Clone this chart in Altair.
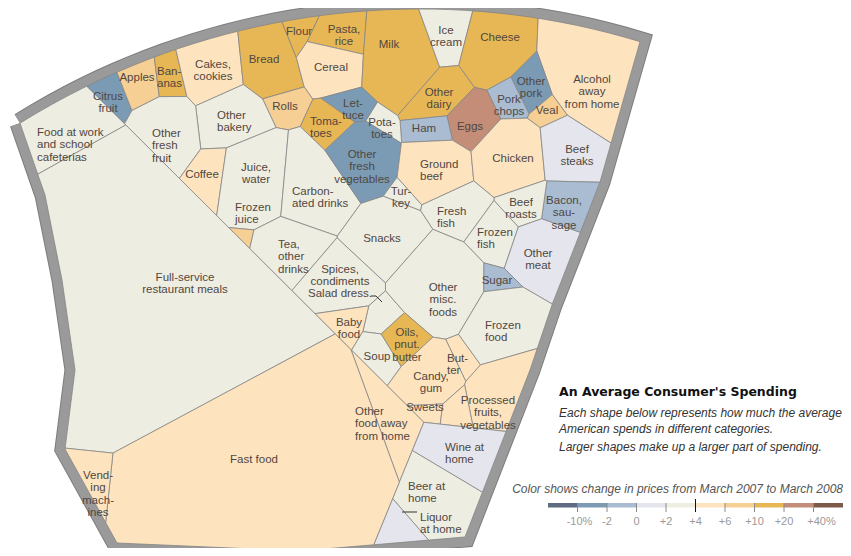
import altair as alt
import numpy as np
import pandas as pd

# ---------------- data ----------------
keys = ["work", "citrus", "apples", "bananas", "cakes", "bread", "flour", "pasta", "cereal", "milk",
        "icecream", "cheese", "alcohol", "otherdairy", "otherpork", "porkchops", "veal", "eggs", "ham",
        "potatoes", "lettuce", "tomatoes", "rolls", "otherbakery", "otherfruit", "coffee", "juice",
        "frozenjuice", "carbonated", "ofv", "turkey", "groundbeef", "chicken", "beefsteaks", "bacon",
        "beefroasts", "freshfish", "frozenfish", "othermeat", "snacks", "tea", "spices", "saladdress",
        "misc", "sugar", "frozenfood", "babyfood", "soup", "oils", "butter", "candy", "sweets",
        "processed", "u_proc", "otheraway", "wine", "beer", "liquor", "fullservice", "fastfood", "vending"]

categories = ["Food at work\nand school\ncafeterias", "Citrus\nfruit", "Apples", "Ban-\nanas", "Cakes,\ncookies",
              "Bread", "Flour", "Pasta,\nrice", "Cereal", "Milk", "Ice\ncream", "Cheese",
              "Alcohol\naway\nfrom home", "Other\ndairy", "Other\npork", "Pork\nchops", "Veal", "Eggs", "Ham",
              "Pota-\ntoes", "Let-\ntuce", "Toma-\ntoes", "Rolls", "Other\nbakery", "Other\nfresh\nfruit",
              "Coffee", "Juice,\nwater", "Frozen\njuice", "Carbon-\nated drinks", "Other\nfresh\nvegetables",
              "Tur-\nkey", "Ground\nbeef", "Chicken", "Beef\nsteaks", "Bacon,\nsau-\nsage", "Beef\nroasts",
              "Fresh\nfish", "Frozen\nfish", "Other\nmeat", "Snacks", "Tea,\nother\ndrinks",
              "Spices,\ncondiments", "Salad dress.", "Other\nmisc.\nfoods", "Sugar", "Frozen\nfood",
              "Baby\nfood", "Soup", "Oils,\npnut.\nbutter", "But-\nter", "Candy,\ngum", "Sweets",
              "Processed\nfruits,\nvegetables", "", "Other\nfood away\nfrom home", "Wine at\nhome",
              "Beer at\nhome", "Liquor\nat home", "Full-service\nrestaurant meals", "Fast food",
              "Vend-\ning\nmach-\nines"]

# price change bin index (0 = under -10% ... 9 = over +40%)
price_bin = [4, 1, 6, 7, 5, 7, 7, 7, 5, 7,
             4, 7, 5, 7, 1, 2, 6, 8, 2,
             4, 1, 7, 6, 4, 4, 5, 4,
             6, 4, 1, 4, 5, 5, 3, 2,
             4, 4, 4, 3, 4, 4, 4, 4,
             4, 2, 4, 5, 4, 7, 5, 5, 5,
             5, 5, 5, 3, 4, 3, 4, 5, 5]

# spending group of each category
away_group = ["work", "fullservice", "fastfood", "vending", "otheraway"]
alcohol_home_group = ["wine", "beer", "liquor"]

bin_names = ["under -10%", "-10% to -2%", "-2% to 0", "0 to +2%", "+2% to +4%", "+4% to +6%",
             "+6% to +10%", "+10% to +20%", "+20% to +40%", "over +40%"]
bin_colors = ["#5f6b80", "#7b9bb5", "#a9bcd2", "#e5e6ed", "#eeede2", "#fde4bf",
              "#f5cf93", "#e8b755", "#c48d78", "#7e5a4a"]
tick_labels = ["-10%", "-2", "0", "+2", "+4", "+6", "+10", "+20", "+40%"]

title_text = "An Average Consumer's Spending"
subtitle_lines = ["Each shape below represents how much the average",
                  "American spends in different categories.",
                  "Larger shapes make up a larger part of spending."]
legend_title = "Color shows change in prices from March 2007 to March 2008"

# ---------------- layout (page pixels) ----------------
label_x = [37, 108, 137, 157, 213, 264, 299, 344, 331, 389, 446, 500, 592, 439, 531, 509, 547, 470, 424,
           382, 353, 310, 285, 217, 152, 202, 256, 235, 292, 362, 401, 420, 513, 577, 564, 521, 437, 477,
           538, 382, 278, 340, 340, 443, 497, 485, 349, 377, 407, 447, 431, 425, 488, 460, 355, 445, 408,
           420, 185, 254, 98]
label_y = [133, 97, 78, 72, 65, 60, 32, 30, 68, 45, 31, 38, 80, 93, 82, 100, 111, 127, 129,
           123, 104, 122, 107, 116, 134, 175, 168, 208, 192, 155, 192, 165, 159, 150, 201, 203, 212, 233,
           254, 239, 245, 270, 294, 288, 281, 326, 323, 357, 333, 359, 377, 408, 401, 415, 412, 448, 487,
           518, 278, 460, 476]
left_aligned = {"work", "bananas", "tomatoes", "otherbakery", "otherfruit", "frozenjuice", "carbonated",
                "groundbeef", "freshfish", "frozenfish", "tea", "frozenfood", "butter", "otheraway",
                "wine", "beer", "liquor"}

# junctions where cell boundaries meet (page px) -> cells meeting there
junctions = [
    (82, 91, ["work", "citrus"]), (117, 75, ["citrus", "apples"]), (152, 62, ["apples", "bananas"]),
    (175, 52, ["bananas", "cakes"]), (237, 33, ["cakes", "bread"]), (285, 26, ["bread", "flour"]),
    (313, 18, ["flour", "pasta"]), (365, 12, ["pasta", "milk"]), (418, 9, ["milk", "icecream"]),
    (472, 11, ["icecream", "cheese"]), (537, 17, ["cheese", "alcohol"]), (607, 142, ["alcohol", "beefsteaks"]),
    (593, 183, ["beefsteaks", "bacon"]), (577, 232, ["bacon", "othermeat"]), (552, 305, ["othermeat", "frozenfood"]),
    (528, 350, ["frozenfood", "processed"]), (507, 432, ["processed", "wine"]), (482, 492, ["wine", "beer"]),
    (425, 541, ["beer", "liquor"]), (385, 544, ["liquor", "fastfood"]), (105, 522, ["fastfood", "vending"]),
    (65, 449, ["vending", "fullservice"]), (40, 173, ["work", "fullservice"]),
    (122, 127, ["citrus", "work", "fullservice", "otherfruit"]), (133, 109, ["citrus", "apples", "otherfruit"]),
    (160, 98, ["apples", "bananas", "otherfruit"]), (189, 93, ["bananas", "cakes", "otherfruit"]),
    (194, 106, ["cakes", "otherfruit", "otherbakery"]), (243, 87, ["cakes", "bread", "otherbakery"]),
    (266, 99, ["bread", "otherbakery", "rolls"]), (293, 47, ["bread", "flour", "cereal"]),
    (313, 35, ["flour", "pasta", "cereal"]), (365, 52, ["pasta", "milk", "cereal"]),
    (304, 83, ["bread", "cereal", "rolls"]), (313, 100, ["rolls", "cereal", "tomatoes"]),
    (333, 95, ["cereal", "tomatoes", "lettuce"]), (363, 87, ["cereal", "lettuce", "milk"]),
    (376, 100, ["lettuce", "milk", "potatoes"]), (347, 125, ["tomatoes", "lettuce", "ofv"]),
    (360, 123, ["lettuce", "potatoes", "ofv"]), (397, 117, ["milk", "potatoes", "otherdairy"]),
    (440, 65, ["milk", "icecream", "otherdairy"]), (457, 68, ["icecream", "cheese", "otherdairy"]),
    (477, 93, ["otherdairy", "cheese", "eggs"]), (488, 89, ["eggs", "cheese", "porkchops"]),
    (507, 78, ["cheese", "porkchops", "otherpork"]), (538, 52, ["cheese", "otherpork", "alcohol"]),
    (530, 107, ["porkchops", "otherpork", "veal"]), (553, 97, ["otherpork", "veal", "alcohol"]),
    (567, 112, ["veal", "alcohol", "beefsteaks"]), (543, 128, ["veal", "beefsteaks", "chicken"]),
    (528, 117, ["porkchops", "veal", "chicken"]), (503, 121, ["porkchops", "eggs", "chicken"]),
    (472, 151, ["eggs", "groundbeef", "chicken"]), (450, 137, ["eggs", "ham", "groundbeef"]),
    (446, 113, ["otherdairy", "ham", "eggs"]), (402, 127, ["potatoes", "otherdairy", "ham"]),
    (401, 146, ["potatoes", "ham", "groundbeef", "ofv"]), (398, 174, ["ofv", "groundbeef", "turkey"]),
    (384, 197, ["ofv", "turkey", "snacks"]), (420, 205, ["turkey", "groundbeef", "freshfish"]),
    (418, 214, ["turkey", "freshfish", "snacks"]), (473, 180, ["groundbeef", "chicken", "freshfish"]),
    (493, 198, ["chicken", "freshfish", "beefroasts", "frozenfish"]),
    (545, 180, ["chicken", "beefsteaks", "bacon", "beefroasts"]),
    (543, 217, ["beefroasts", "bacon", "othermeat"]), (518, 227, ["beefroasts", "frozenfish", "othermeat"]),
    (500, 270, ["frozenfish", "othermeat", "sugar"]), (462, 244, ["freshfish", "frozenfish", "misc"]),
    (482, 261, ["frozenfish", "misc", "sugar"]), (520, 283, ["othermeat", "sugar", "frozenfood"]),
    (483, 296, ["misc", "sugar", "frozenfood"]), (435, 228, ["freshfish", "snacks", "misc"]),
    (385, 283, ["snacks", "spices", "misc"]), (385, 293, ["spices", "misc", "saladdress"]),
    (370, 305, ["spices", "saladdress", "babyfood"]), (295, 287, ["tea", "spices", "fullservice"]),
    (322, 313, ["spices", "fullservice", "babyfood"]), (403, 308, ["saladdress", "misc", "oils"]),
    (382, 333, ["saladdress", "oils", "soup"]), (362, 333, ["saladdress", "babyfood", "soup"]),
    (353, 348, ["babyfood", "soup", "otheraway"]),
    (342, 334, ["fullservice", "babyfood", "fastfood", "otheraway"]),
    (385, 387, ["soup", "otheraway", "candy"]), (403, 367, ["oils", "soup", "candy"]),
    (432, 337, ["oils", "misc", "candy"]), (442, 338, ["misc", "candy", "butter"]),
    (458, 337, ["misc", "butter", "frozenfood"]), (480, 370, ["butter", "frozenfood", "processed"]),
    (463, 382, ["butter", "candy", "u_proc", "processed"]), (403, 405, ["otheraway", "candy", "sweets"]),
    (447, 403, ["candy", "sweets", "u_proc"]), (422, 430, ["otheraway", "sweets", "wine"]),
    (438, 428, ["sweets", "u_proc", "wine"]), (473, 428, ["u_proc", "processed", "wine"]),
    (408, 448, ["otheraway", "wine", "beer"]), (395, 470, ["otheraway", "fastfood", "beer"]),
    (388, 497, ["fastfood", "beer", "liquor"]), (117, 455, ["vending", "fullservice", "fastfood"]),
    (200, 151, ["otherfruit", "otherbakery", "coffee"]), (180, 178, ["otherfruit", "coffee", "fullservice"]),
    (227, 147, ["otherbakery", "coffee", "juice"]), (218, 213, ["coffee", "juice", "fullservice"]),
    (273, 132, ["otherbakery", "rolls", "juice"]), (290, 128, ["rolls", "juice", "carbonated"]),
    (303, 125, ["rolls", "tomatoes", "carbonated"]), (320, 150, ["tomatoes", "ofv", "carbonated"]),
    (360, 202, ["ofv", "carbonated", "snacks"]), (337, 237, ["carbonated", "tea", "spices", "snacks"]),
    (282, 213, ["juice", "carbonated", "tea"]), (233, 228, ["juice", "frozenjuice", "fullservice"]),
    (258, 230, ["juice", "frozenjuice", "tea"]), (248, 242, ["frozenjuice", "tea", "fullservice"]),
    (253, 372, ["fullservice", "fastfood"]), (410, 512, ["beer", "liquor"]),
]

# inner edge of the grey frame (page px)
arc_cx, arc_cy, arc_r = 420.0, 767.0, 758.0
arc_xs = np.linspace(20, 640, 40)
frame = [(float(x), float(arc_cy - np.sqrt(arc_r ** 2 - (x - arc_cx) ** 2))) for x in arc_xs]
frame += [(600, 182), (552, 305), (530, 370), (465, 537), (383, 544), (300, 551), (117, 543),
          (65, 449), (75, 370), (62, 280), (45, 195)]

OX, OY = 8, 8  # page margin
S = 100.0


# ---------------- power-diagram layout fitted to the junctions ----------------
def diff_row(p, a, b, M):
    r = np.zeros(3 * M)
    r[3 * a], r[3 * a + 1], r[3 * a + 2] = -2 * p[0], -2 * p[1], 1.0
    r[3 * b], r[3 * b + 1], r[3 * b + 2] = 2 * p[0], 2 * p[1], -1.0
    return r  # f_a(p) - f_b(p)


def fit(members, jlist, anchors, owned, lam, mu=0.01, margin=0.012, iters=14):
    M = len(members)
    mid = {k: i for i, k in enumerate(members)}
    base_rows, base_rhs = [], []
    for (x, y, cs) in jlist:
        p = (x / S, y / S)
        for c in cs[1:]:
            base_rows.append(diff_row(p, mid[cs[0]], mid[c], M)); base_rhs.append(0.0)
    for i in range(M):
        g = anchors[i]
        for d in range(2):
            r = np.zeros(3 * M); r[3 * i + d] = lam
            base_rows.append(r); base_rhs.append(lam * g[d])
        r = np.zeros(3 * M); r[3 * i + 2] = mu
        base_rows.append(r); base_rhs.append(mu * float(g @ g))
    extra_rows, extra_rhs = [], []
    for it in range(iters):
        sol = np.linalg.lstsq(np.array(base_rows + extra_rows), np.array(base_rhs + extra_rhs), rcond=None)[0]
        sx, sy, cc = sol[0::3], sol[1::3], sol[2::3]
        added = 0
        for (p, i) in owned:
            f = -2 * (p[0] * sx + p[1] * sy) + cc
            for k in np.where(f < f[i] + margin)[0]:
                if k != i:
                    extra_rows.append(diff_row(p, k, i, M)); extra_rhs.append(margin); added += 1
        for (x, y, cs) in jlist:
            p = (x / S, y / S)
            f = -2 * (p[0] * sx + p[1] * sy) + cc
            own = [mid[c] for c in cs]
            top = max(f[o] for o in own)
            for k in np.where(f < top + margin * 0.5)[0]:
                if k not in own:
                    extra_rows.append(diff_row(p, k, own[0], M)); extra_rhs.append(margin * 0.5); added += 1
        if added == 0:
            break
    return sx, sy, cc


def clip(poly, a, b, c0):
    out = []
    n = len(poly)
    for k in range(n):
        P, Q = poly[k], poly[(k + 1) % n]
        fp = a * P[0] + b * P[1] + c0
        fq = a * Q[0] + b * Q[1] + c0
        if fp <= 0:
            out.append(P)
        if (fp < 0 < fq) or (fq < 0 < fp):
            t = fp / (fp - fq)
            out.append((P[0] + t * (Q[0] - P[0]), P[1] + t * (Q[1] - P[1])))
    return out


def cells_of(poly0, sx, sy, cc):
    polys = []
    for i in range(len(sx)):
        poly = list(poly0)
        for j in range(len(sx)):
            if j == i or not poly:
                continue
            poly = clip(poly, -2 * (sx[i] - sx[j]) / S, -2 * (sy[i] - sy[j]) / S, cc[i] - cc[j])
        polys.append(poly)
    return polys


cell_pts = {k: [] for k in keys}
for (x, y, cs) in junctions:
    for c in cs:
        cell_pts[c].append((x / S, y / S))
cell_anchor = {k: np.mean(np.array(cell_pts[k]), axis=0) for k in keys}

group_of = {k: ("away" if k in away_group else ("alc" if k in alcohol_home_group else "home")) for k in keys}
groups = ["away", "alc", "home"]
members_of = {g: [k for k in keys if group_of[k] == g] for g in groups}

# level 1: groups
g_jl = []
for (x, y, cs) in junctions:
    gs = []
    for c in cs:
        if group_of[c] not in gs:
            gs.append(group_of[c])
    if len(gs) >= 2:
        g_jl.append((x, y, gs))
g_anchor = [np.mean(np.array([cell_anchor[k] for k in members_of[g]]), axis=0) for g in groups]
g_owned = [(cell_anchor[k], groups.index(group_of[k])) for k in keys]
gsx, gsy, gcc = fit(groups, g_jl, g_anchor, g_owned, lam=0.3)
group_polys = cells_of(frame, gsx, gsy, gcc)

# level 2: cells inside each group
cell_poly = {}
for gi, g in enumerate(groups):
    mem = members_of[g]
    jl = []
    for (x, y, cs) in junctions:
        inside = [c for c in cs if c in mem]
        if len(inside) >= 2:
            jl.append((x, y, inside))
    anchors = [cell_anchor[k] for k in mem]
    owned = []
    for i, k in enumerate(mem):
        owned.append((cell_anchor[k], i))
        for v in cell_pts[k]:
            owned.append((0.55 * cell_anchor[k] + 0.45 * np.array(v), i))
    sx, sy, cc = fit(mem, jl, anchors, owned, lam=0.18)
    for k, poly in zip(mem, cells_of(group_polys[gi], sx, sy, cc)):
        cell_poly[k] = poly


def ring(points):
    r = [[round(p[0] - OX, 2), round(p[1] - OY, 2)] for p in points]
    return r + [r[0]]


cell_features = []
for i, k in enumerate(keys):
    poly = cell_poly[k]
    if len(poly) >= 3:
        cell_features.append({"type": "Feature",
                              "geometry": {"type": "Polygon", "coordinates": [ring(poly)]},
                              "properties": {"name": k, "bin": bin_names[price_bin[i]]}})

frame_feature = [{"type": "Feature", "geometry": {"type": "LineString", "coordinates": ring(frame)},
                  "properties": {}}]

# legend geometry
leg_x0, leg_w, leg_y0, leg_y1 = 548, 29.5, 503, 507.5
legend_boxes = []
for k in range(len(bin_names)):
    x0 = leg_x0 + k * leg_w
    legend_boxes.append({"type": "Feature",
                         "geometry": {"type": "Polygon", "coordinates": [ring([(x0, leg_y0), (x0 + leg_w, leg_y0),
                                                                               (x0 + leg_w, leg_y1), (x0, leg_y1)])]},
                         "properties": {"bin": bin_names[k]}})
tick_feats, tick_text = [], []
for k, lab in enumerate(tick_labels):
    x = leg_x0 + (k + 1) * leg_w
    top = 499 if lab == "+4" else 503
    tick_feats.append({"type": "Feature",
                       "geometry": {"type": "LineString", "coordinates": [[x - OX, top - OY], [x - OX, 512 - OY]]},
                       "properties": {"dark": "y" if lab == "+4" else "n"}})
    tick_text.append({"lon": x - OX + (2 if lab == "-10%" else (8 if lab == "+40%" else 0)),
                      "lat": 522 - OY, "text": lab})

leaders = [{"type": "Feature", "geometry": {"type": "LineString",
                                              "coordinates": [[402 - OX, 512 - OY], [417 - OX, 512 - OY]]},
            "properties": {}},
           {"type": "Feature", "geometry": {"type": "LineString",
                                              "coordinates": [[371 - OX, 296 - OY], [376 - OX, 296 - OY],
                                                              [382 - OX, 302 - OY]]},
            "properties": {}}]

lab_df = pd.DataFrame({"lon": [x - OX for x in label_x], "lat": [y - OY for y in label_y],
                       "text": categories, "key": keys})
lab_df["align"] = ["left" if k in left_aligned else "center" for k in keys]
lab_df = lab_df[lab_df["text"] != ""]

color_scale = alt.Scale(domain=bin_names, range=bin_colors)
proj = dict(type="identity", scale=1, translate=[0, 0])


def geo(feats):
    return alt.InlineData(values={"type": "FeatureCollection", "features": feats},
                          format=alt.DataFormat(property="features", type="json"))


frame_edge = alt.Chart(geo(frame_feature)).mark_geoshape(
    filled=False, stroke="#7d7d7d", strokeWidth=21, strokeJoin="miter")
frame_layer = alt.Chart(geo(frame_feature)).mark_geoshape(
    filled=False, stroke="#9a9a9a", strokeWidth=19, strokeJoin="miter")
cells_layer = alt.Chart(geo(cell_features)).mark_geoshape(stroke="#858585", strokeWidth=0.8).encode(
    color=alt.Color("properties.bin:N", scale=color_scale, legend=None))
leader_layer = alt.Chart(geo(leaders)).mark_geoshape(filled=False, stroke="#333333", strokeWidth=1)

txt_common = dict(font="Liberation Sans", fontSize=11.5, color="#51473f", lineBreak="\n",
                  lineHeight=12.3, baseline="middle")
lab_center = alt.Chart(lab_df[lab_df["align"] == "center"]).mark_text(align="center", **txt_common).encode(
    longitude="lon:Q", latitude="lat:Q", text="text:N")
lab_left = alt.Chart(lab_df[lab_df["align"] == "left"]).mark_text(align="left", **txt_common).encode(
    longitude="lon:Q", latitude="lat:Q", text="text:N")

title_layer = alt.Chart(pd.DataFrame({"lon": [559 - OX], "lat": [392 - OY], "text": [title_text]})).mark_text(
    align="left", baseline="middle", font="DejaVu Sans", fontWeight="bold", fontSize=12.5, color="#111111").encode(
    longitude="lon:Q", latitude="lat:Q", text="text:N")
sub_layer = alt.Chart(pd.DataFrame({"lon": [559 - OX] * 3, "lat": [413 - OY, 429 - OY, 447 - OY],
                                    "text": subtitle_lines})).mark_text(
    align="left", baseline="middle", font="Liberation Sans", fontStyle="italic", fontSize=12,
    color="#333333").encode(longitude="lon:Q", latitude="lat:Q", text="text:N")
legtitle_layer = alt.Chart(pd.DataFrame({"lon": [843 - OX], "lat": [489 - OY], "text": [legend_title]})).mark_text(
    align="right", baseline="middle", font="Liberation Sans", fontStyle="italic", fontSize=12,
    color="#555555").encode(longitude="lon:Q", latitude="lat:Q", text="text:N")
legbox_layer = alt.Chart(geo(legend_boxes)).mark_geoshape(strokeWidth=0).encode(
    color=alt.Color("properties.bin:N", scale=color_scale, legend=None))
tick_layer = alt.Chart(geo(tick_feats)).mark_geoshape(filled=False, strokeWidth=1).encode(
    stroke=alt.Stroke("properties.dark:N", scale=alt.Scale(domain=["y", "n"], range=["#111111", "#8a8a8a"]),
                      legend=None))
ticktext_layer = alt.Chart(pd.DataFrame(tick_text)).mark_text(
    align="center", baseline="middle", font="Liberation Sans", fontSize=11, color="#9a9a9a").encode(
    longitude="lon:Q", latitude="lat:Q", text="text:N")

chart = alt.layer(frame_edge, frame_layer, cells_layer, leader_layer, lab_center, lab_left, title_layer,
                  sub_layer, legtitle_layer, legbox_layer, tick_layer, ticktext_layer).project(**proj).properties(
    width=835, height=540, padding=0).configure_view(strokeWidth=0)

chart.save("out.html", embed_options={"renderer": "svg", "actions": False})
